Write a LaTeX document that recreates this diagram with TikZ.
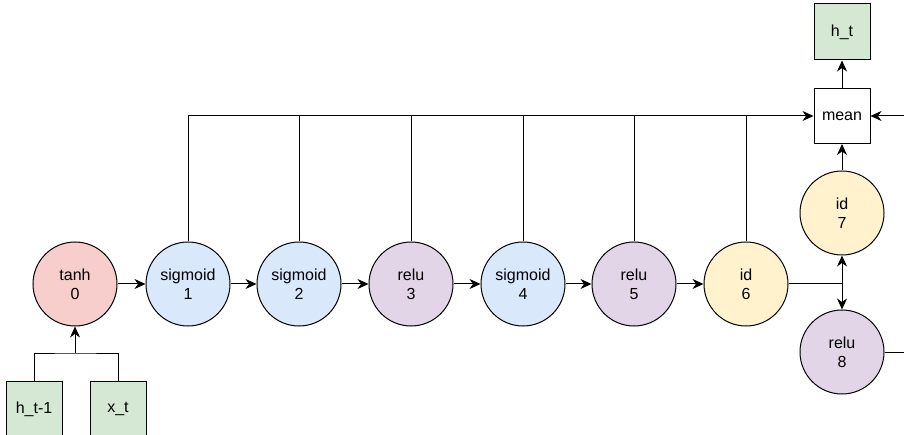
\documentclass[tikz,border=0pt]{standalone}
\usepackage{fontspec}
\setmainfont{Liberation Sans}
\usetikzlibrary{arrows.meta}
\definecolor{cred}{HTML}{F8CECC}
\definecolor{cblue}{HTML}{DAE8FC}
\definecolor{cpurple}{HTML}{E1D5E7}
\definecolor{cyellow}{HTML}{FFF2CC}
\definecolor{cgreen}{HTML}{D5E8D4}
\begin{document}
\begin{tikzpicture}[x=1pt,y=-1pt,
  every node/.style={font=\fontsize{16}{19}\selectfont, align=center, inner sep=0pt},
  opnode/.style={circle, draw=black, line width=1pt, minimum size=84pt},
  boxnode/.style={rectangle, draw=black, line width=1pt, minimum width=56pt, minimum height=56pt},
  conn/.style={line width=1pt, draw=black},
  arr/.style={conn, -{Stealth[length=11pt,width=10pt,inset=3.5pt]}}]
\useasboundingbox (0,0) rectangle (904,435);
\clip (0,0) rectangle (904,435);
\node[opnode, fill=cred] (n0) at (75,284) {tanh\\0};
\node[opnode, fill=cblue] (n1) at (188,284) {sigmoid\\1};
\node[opnode, fill=cblue] (n2) at (299,284) {sigmoid\\2};
\node[opnode, fill=cpurple] (n3) at (411,284) {relu\\3};
\node[opnode, fill=cblue] (n4) at (523,284) {sigmoid\\4};
\node[opnode, fill=cpurple] (n5) at (634,284) {relu\\5};
\node[opnode, fill=cyellow] (n6) at (746,284) {id\\6};
\node[opnode, fill=cyellow] (n7) at (842,213) {id\\7};
\node[opnode, fill=cpurple] (n8) at (842,352) {relu\\8};
\node[boxnode, fill=white, minimum height=55pt] (mean) at (842,116) {mean};
\node[boxnode, fill=cgreen] (ht) at (842,32) {h\_t};
\node[boxnode, fill=cgreen] (hin) at (34,409) {h\_t-1};
\node[boxnode, fill=cgreen] (xin) at (118,409) {x\_t};
\coordinate (fork) at (75,353);
\coordinate (branch) at (842,284);
\coordinate (ret) at (940,352);
\draw[conn] (hin.north) |- (fork) -| (xin.north);
\draw[arr] (fork) -- (n0.south);
\draw[arr] (n0) -- (n1);
\draw[arr] (n1) -- (n2);
\draw[arr] (n2) -- (n3);
\draw[arr] (n3) -- (n4);
\draw[arr] (n4) -- (n5);
\draw[arr] (n5) -- (n6);
\draw[arr] (n1.north) |- (mean.west);
\foreach \n in {n2,n3,n4,n5,n6} \draw[conn] (\n.north) -- (\n.north |- mean.west);
\draw[conn] (n6.east) -- (branch);
\draw[arr] (branch) -- (n7.south);
\draw[arr] (branch) -- (n8.north);
\draw[arr] (n7.north) -- (mean.south);
\draw[arr] (mean.north) -- (ht.south);
\draw[arr] (n8.east) -- (ret) |- (mean.east);
\end{tikzpicture}
\end{document}
